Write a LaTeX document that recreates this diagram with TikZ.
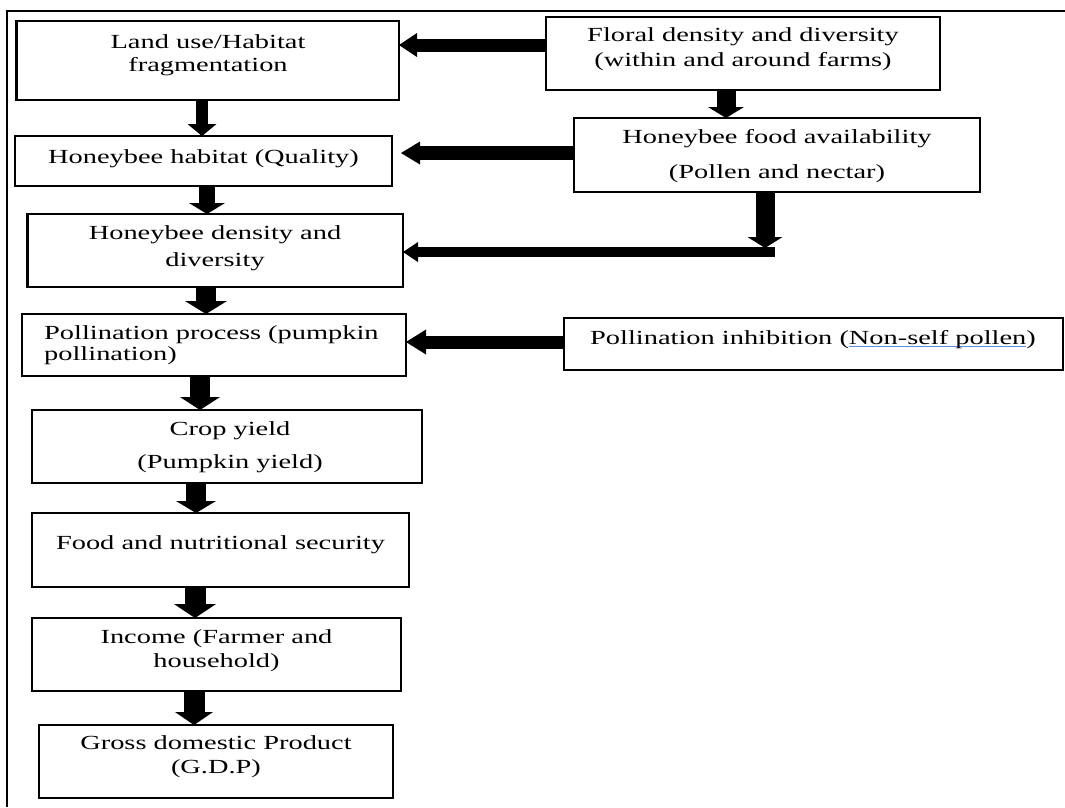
\documentclass[tikz,border=0pt]{standalone}
\usepackage{fontspec}
\setmainfont[FakeStretch=1.42]{Liberation Serif}
\usetikzlibrary{arrows.meta}
\definecolor{ulcol}{RGB}{90,140,230}
\newcommand\blueul[1]{\setbox0\hbox{#1}\rlap{\textcolor{ulcol}{\rule[-2.5pt]{\wd0}{0.9pt}}}\box0}
\begin{document}
\begin{tikzpicture}[x=1pt,y=-1pt,
  box/.style={draw, line width=2.2pt, inner sep=0pt, outer sep=0pt},
  txt/.style={font=\fontsize{20}{23}\selectfont, align=center, inner sep=0pt},
  blk/.style n args={3}{line width=#1, -{Triangle[width=#2,length=#3,line width=0pt]}}]
\useasboundingbox (0,0) rectangle (1065,807);
% frame
\draw[line width=1.6pt] (7,807) -- (7,11) -- (1065,11);
% boxes
\node[box, minimum width=382.5pt, minimum height=79pt] (land) at (207.75,60.5) {};
\node[box, minimum width=394pt, minimum height=73pt] (floral) at (743,53.5) {};
\node[box, minimum width=377pt, minimum height=50pt] (habitat) at (203.5,161) {};
\node[box, minimum width=406pt, minimum height=74pt] (food) at (777,155) {};
\node[box, minimum width=375.5pt, minimum height=73pt] (density) at (215.25,250.5) {};
\node[box, minimum width=384pt, minimum height=62pt] (poll) at (214,345) {};
\node[box, minimum width=499pt, minimum height=52pt] (inhib) at (813.5,344) {};
\node[box, minimum width=390pt, minimum height=73pt] (crop) at (227,446.5) {};
\node[box, minimum width=377pt, minimum height=74pt] (foodsec) at (220.5,550) {};
\node[box, minimum width=369pt, minimum height=73pt] (income) at (216.5,654.5) {};
\node[box, minimum width=354pt, minimum height=73pt] (gdp) at (216,761.5) {};
% texts
\node[txt] (landT) at (208,55) {Land use/Habitat\\fragmentation};
\node[txt] (floralT) at (743,49) {Floral density and diversity\\[2pt](within and around farms)};
\node[txt] (habitatT) at (203.5,158.5) {Honeybee habitat (Quality)};
\node[txt] (foodT) at (777,156) {Honeybee food availability\\[12pt](Pollen and nectar)};
\node[txt] (densityT) at (215,248) {Honeybee density and\\[4pt]diversity};
\node[txt, align=left, anchor=west] (pollT) at (44,345) {Pollination process (pumpkin\\[-2pt]pollination)};
\node[txt] (inhibT) at (813,339.5) {Pollination inhibition (\blueul{Non-self pollen})};
\node[txt] (cropT) at (230,447) {Crop yield\\[10pt](Pumpkin yield)};
\node[txt] (foodsecT) at (220.5,544.5) {Food and nutritional security};
\node[txt] (incomeT) at (216.5,650.5) {Income (Farmer and\\[1pt]household)};
\node[txt] (gdpT) at (216,756.5) {Gross domestic Product\\[1pt](G.D.P)};
% vertical arrows, left column
\coordinate (a1) at ([xshift=-5.75pt]land.south);
\draw[blk={12pt}{29pt}{12pt}] (a1) -- (a1 |- habitat.north);
\coordinate (a2) at ([xshift=3.5pt]habitat.south);
\draw[blk={16pt}{36pt}{11pt}] (a2) -- (a2 |- density.north);
\coordinate (a3) at ([xshift=-9.25pt]density.south);
\draw[blk={20pt}{42pt}{13pt}] (a3) -- (a3 |- poll.north);
\coordinate (a4) at ([xshift=-14pt]poll.south);
\draw[blk={20pt}{40pt}{13pt}] (a4) -- (a4 |- crop.north);
\coordinate (a5) at ([xshift=-31pt]crop.south);
\draw[blk={20pt}{40pt}{12pt}] (a5) -- (a5 |- foodsec.north);
\coordinate (a6) at ([xshift=-25.5pt]foodsec.south);
\draw[blk={21pt}{42pt}{14pt}] (a6) -- (a6 |- income.north);
\coordinate (a7) at ([xshift=-22.5pt]income.south);
\draw[blk={21pt}{38pt}{13pt}] (a7) -- (a7 |- gdp.north);
% right side arrows
\coordinate (b1) at ([yshift=8.5pt]floral.west);
\draw[blk={13pt}{24pt}{18pt}] (b1) -- (b1 -| land.east);
\coordinate (b2) at ([xshift=-17pt]floral.south);
\draw[blk={19pt}{36pt}{11pt}] (b2) -- (b2 |- food.north);
\coordinate (b3) at ([yshift=2pt]food.west);
\coordinate (b3e) at ([xshift=9pt]b3 -| habitat.east);
\draw[blk={14pt}{23pt}{19pt}] (b3) -- (b3e);
\coordinate (bend) at (774.5,252);
\coordinate (b4) at ([xshift=-12pt]food.south);
\coordinate (b4e) at ([yshift=4pt]b4 |- bend);
\draw[blk={19pt}{35pt}{11pt}] (b4) -- (b4e);
\draw[blk={10pt}{20pt}{15pt}] (bend) -- (bend -| density.east);
\coordinate (b5) at ([yshift=2pt]inhib.west);
\draw[blk={13pt}{25pt}{20pt}] (b5) -- (b5 -| poll.east);
\end{tikzpicture}
\end{document}
